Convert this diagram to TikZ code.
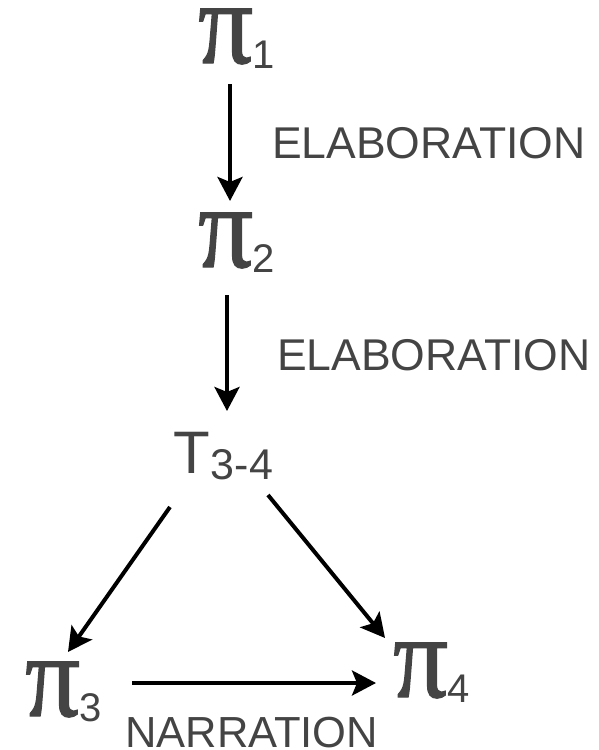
\documentclass[tikz,border=0pt]{standalone}
\usepackage{fontspec}
\setmainfont{Liberation Sans}
\newfontfamily\pifamily{Liberation Serif}[FakeBold=1.2]
\usetikzlibrary{arrows.meta}
\definecolor{txt}{HTML}{444444}
\newcommand{\pibig}{\scalebox{0.92}[1]{\pifamily\fontsize{118}{118}\selectfont π}}
\newcommand{\subtxt}[1]{\raisebox{-5pt}{\fontsize{40}{40}\selectfont #1}}
\tikzset{
  lbl/.style={anchor=base west, inner sep=0pt, text=txt, font=\fontsize{44.5}{44.5}\selectfont},
  pinode/.style={anchor=base west, inner sep=0pt, text=txt},
  arr/.style={-{Stealth[length=24pt,width=25pt,inset=5pt]}, line width=4pt, black}
}
\begin{document}
\begin{tikzpicture}[x=1pt,y=-1pt]
\useasboundingbox (0,0) rectangle (599,750);
% nodes
\node[pinode] (p1) at (198,63) {\pibig\kern-1pt\subtxt{1}};
\node[pinode] (p2) at (198,267) {\pibig\kern-1pt\subtxt{2}};
\node[pinode] (t34) at (173,473) {\fontsize{60}{60}\selectfont T\kern1pt\raisebox{-6pt}{\fontsize{43}{43}\selectfont 3-4}};
\node[pinode] (p3) at (25,716) {\pibig\kern-1pt\subtxt{3}};
\node[pinode] (p4) at (393,697) {\pibig\kern-1pt\subtxt{4}};
\node[lbl] (e1) at (272,158) {ELABORATION};
\node[lbl] (e2) at (277,370) {ELABORATION};
\node[lbl, font=\fontsize{43.5}{43.5}\selectfont] (nar) at (125,747) {NARRATION};
% arrow end points
\coordinate (a1s) at (230,84);
\coordinate (a1e) at (230,201);
\coordinate (a2s) at (227,295);
\coordinate (a2e) at (227,411);
\coordinate (a3s) at (170,507);
\coordinate (a3e) at (68,652);
\coordinate (a4s) at (268,495);
\coordinate (a4e) at (385,638);
\coordinate (a5s) at (132,683);
\coordinate (a5e) at (376,683);
\draw[arr] (a1s) -- (a1e);
\draw[arr] (a2s) -- (a2e);
\draw[arr] (a3s) -- (a3e);
\draw[arr] (a4s) -- (a4e);
\draw[arr] (a5s) -- (a5e);
\end{tikzpicture}
\end{document}
